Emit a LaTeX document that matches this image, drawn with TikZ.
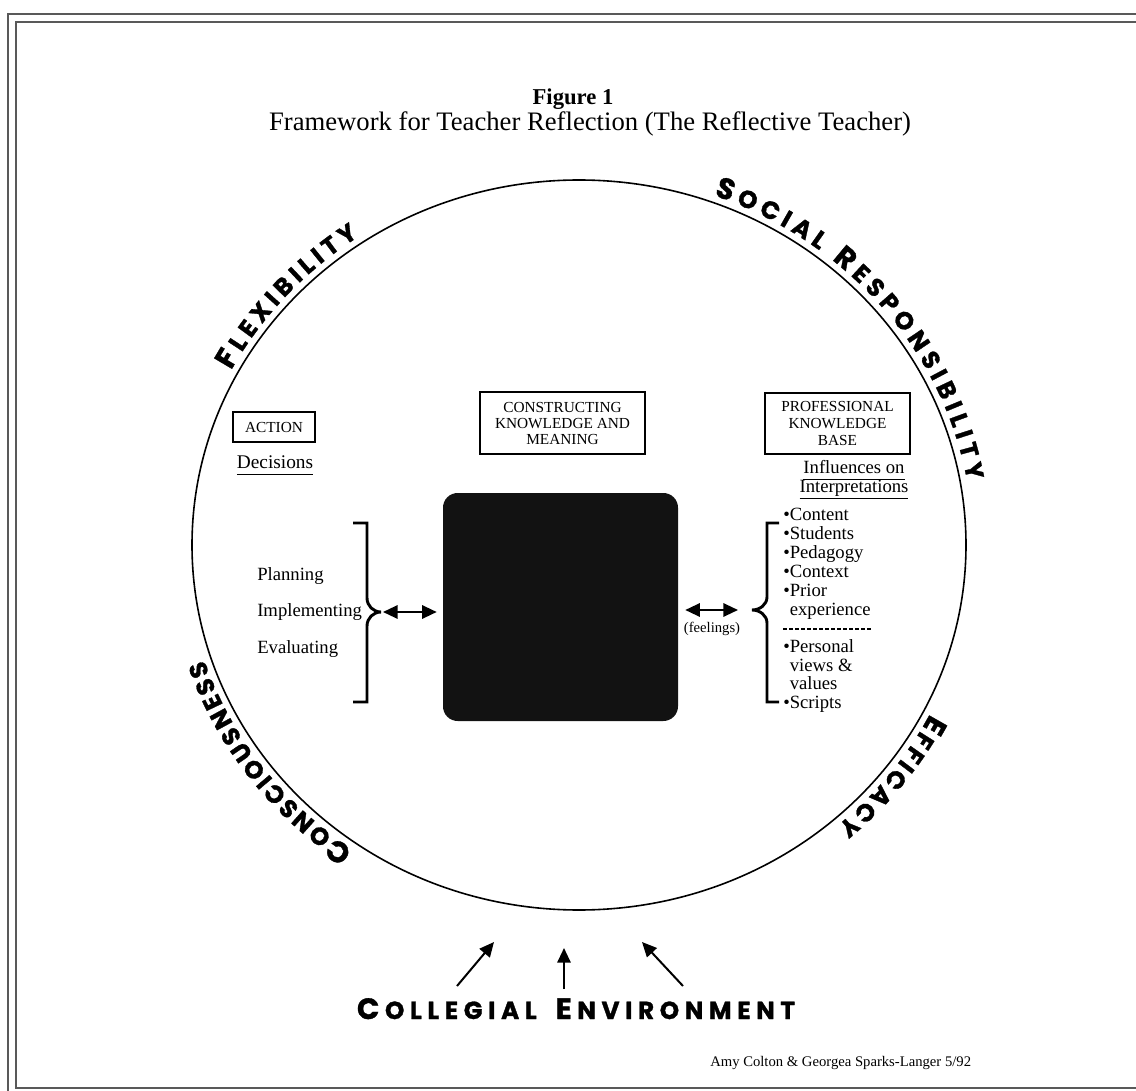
\documentclass[tikz,border=0pt]{standalone}
\usepackage{fontspec}
\setmainfont{Liberation Serif}
\newfontfamily\arcfont{Poppins}[BoldFeatures={FakeBold=1.2}]
\usetikzlibrary{arrows.meta,decorations.text}
\newcommand\arcbig{\arcfont\bfseries\fontsize{22}{22}\selectfont}
\newcommand\arcsmall{\arcfont\bfseries\fontsize{18.5}{18.5}\selectfont}
\newcommand\ulx[1]{\underline{#1\vphantom{g}}}
\newcommand\lsp{\hskip 0pt plus 1fil\relax}
\newcommand\wsp{\hskip 0pt plus 3.4fil\relax}
\begin{document}
\begin{tikzpicture}[x=0.75pt,y=-0.75pt,
  frame/.style={draw=black!65,line width=1.3pt},
  box/.style={draw,line width=0.8pt,inner sep=0pt,align=center,font=\fontsize{11.5}{12}\selectfont},
  lbl/.style={inner sep=0pt,font=\fontsize{14}{15}\selectfont},
  item/.style={inner sep=0pt,anchor=base west,font=\fontsize{14}{14}\selectfont},
  brace/.style={line width=2.2pt,line cap=butt,line join=miter},
  dbl/.style={line width=1.6pt,{Triangle[length=11pt,width=10pt]}-{Triangle[length=11pt,width=10pt]}},
  uparrow/.style={line width=1.5pt,-{Triangle[length=11pt,width=10pt]}}
]
\useasboundingbox (0,0) rectangle (1136,1091);
\clip (0,0) rectangle (1136,1091);
% frame
\draw[frame] (8,14) rectangle (1170,1110);
\draw[frame] (16,22) rectangle (1150,1088);
% title
\node[anchor=base,inner sep=0pt,font=\bfseries\fontsize{17}{17}\selectfont] (fig) at (573,105) {Figure 1};
\node[anchor=base,inner sep=0pt,font=\fontsize{20}{20}\selectfont] (sub) at (590,131) {Framework for Teacher Reflection (The Reflective Teacher)};
% ellipse
\draw[line width=1.2pt] (579,545) ellipse [x radius=387, y radius=365];
% arc texts
\path[decorate,decoration={text along path,text align=fit to path,
  text={|\arcbig|F|\arcsmall|LEXIBILITY}}]
  ([shift={(579,545)}]208:394 and 372) arc[start angle=208,end angle=236,x radius=394,y radius=372];
\path[decorate,decoration={text along path,text align=fit to path,
  text={|\arcbig|S|\arcsmall|OCIAL |\arcbig|R|\arcsmall|ESPONSIBILITY}}]
  ([shift={(579,545)}]290:394 and 372) arc[start angle=290,end angle=350,x radius=394,y radius=372];
\path[decorate,decoration={text along path,text align=fit to path,
  text={|\arcbig|E|\arcsmall|FFICACY}}]
  ([shift={(579,545)}]27:394 and 372) arc[start angle=27,end angle=49,x radius=394,y radius=372];
\path[decorate,decoration={text along path,text align=fit to path,
  text={|\arcbig|C|\arcsmall|ONSCIOUSNESS}}]
  ([shift={(579,545)}]125:394 and 372) arc[start angle=125,end angle=162,x radius=394,y radius=372];
% boxes
\node[box,minimum width=61.5pt,minimum height=22.5pt] (action) at (274,427) {ACTION};
\node[box,minimum width=123.75pt,minimum height=46.5pt] (constr) at (562.5,423) {CONSTRUCTING\\KNOWLEDGE AND\\MEANING};
\node[box,minimum width=108.75pt,minimum height=45.75pt,font=\fontsize{11.5}{12.5}\selectfont] (prof) at (837.5,423.5) {PROFESSIONAL\\KNOWLEDGE\\BASE};
\node[fill=black!93,rounded corners=11pt,minimum width=176.25pt,minimum height=171pt,inner sep=0pt] (core) at (560.5,607) {};
% left side
\node[lbl,anchor=base,font=\fontsize{14.5}{15}\selectfont] (dec) at (275,468) {\ulx{Decisions}};
\node[lbl,anchor=base west] (plan) at (257,580) {Planning};
\node[lbl,anchor=base west] (impl) at (257,616) {Implementing};
\node[lbl,anchor=base west] (eval) at (257,653) {Evaluating};
\coordinate (ltip) at (381,612);
\draw[brace] (353,523) -- (367,523) -- (367,598) to[out=-90,in=180] (ltip) to[out=180,in=90] (367,626) -- (367,702) -- (353,702);
\draw[dbl,shorten <=1.5pt,shorten >=4.5pt] (ltip) -- (core.west |- ltip);
% right side
\node[lbl,anchor=base] (infl1) at (854,473) {\ulx{Influences on}};
\node[lbl,anchor=base] (infl2) at (854,492) {\ulx{Interpretations}};
\coordinate (rtip) at (752,610);
\draw[brace] (779,523) -- (767,523) -- (767,597) to[out=-90,in=0] (rtip) to[out=0,in=90] (767,623) -- (767,702) -- (779,702);
\draw[dbl,shorten <=5.25pt,shorten >=10.5pt] (core.east |- rtip) -- (rtip);
\node[inner sep=0pt,font=\fontsize{11}{11}\selectfont] (feel) at (712,629) {(feelings)};
\foreach \txt/\yy [count=\i] in {{•Content}/520,{•Students}/539,{•Pedagogy}/558,{•Context}/577,{•Prior}/596,{\phantom{•}experience}/615,{•Personal}/652,{\phantom{•}views \&}/671,{\phantom{•}values}/689,{•Scripts}/708}
  \node[item] (r\i) at (783,\yy) {\txt};
\coordinate (d1) at (783,629);
\coordinate (d2) at (873,629);
\draw[line width=0.8pt,dash pattern=on 3pt off 1.5pt] (d1) -- (d2);
% bottom
\node[anchor=base,inner sep=0pt] (env) at (576,1019) {\makebox[328.5pt][s]{\arcbig C\lsp\arcsmall O\lsp L\lsp L\lsp E\lsp G\lsp I\lsp A\lsp L\wsp\arcbig E\lsp\arcsmall N\lsp V\lsp I\lsp R\lsp O\lsp N\lsp M\lsp E\lsp N\lsp T}};
\coordinate (b1s) at (457,986); \coordinate (b1e) at (494,942);
\coordinate (b2s) at (564,989); \coordinate (b2e) at (564,948);
\coordinate (b3s) at (683,986); \coordinate (b3e) at (642,942);
\draw[uparrow] (b1s) -- (b1e);
\draw[uparrow] (b2s) -- (b2e);
\draw[uparrow] (b3s) -- (b3e);
\node[anchor=base west,inner sep=0pt,font=\fontsize{11}{11}\selectfont] (credit) at (710,1066) {Amy Colton \& Georgea Sparks-Langer 5/92};
\end{tikzpicture}
\end{document}
